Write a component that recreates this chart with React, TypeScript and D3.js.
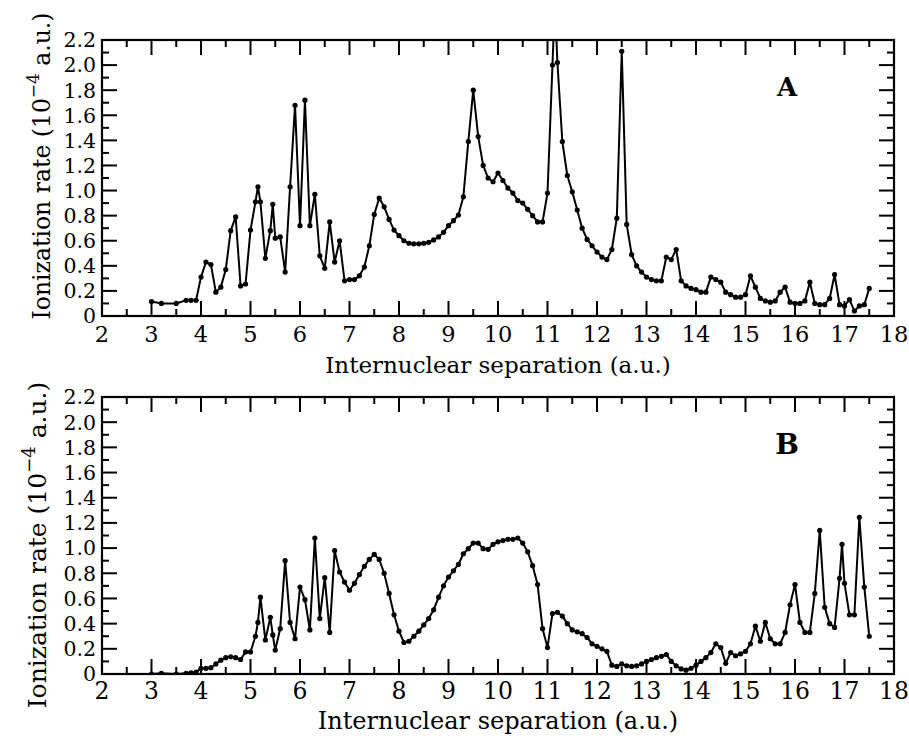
import React from 'react';
import * as d3 from 'd3';

// ---------- data ----------
const seriesA: [number, number][] = [
  [3.0, 0.115], [3.2, 0.10], [3.5, 0.10], [3.7, 0.125], [3.8, 0.125], [3.9, 0.125],
  [4.0, 0.31], [4.1, 0.43], [4.2, 0.41], [4.3, 0.19], [4.4, 0.23], [4.5, 0.37],
  [4.6, 0.68], [4.7, 0.79], [4.8, 0.24], [4.9, 0.255], [5.0, 0.685], [5.1, 0.91],
  [5.15, 1.03], [5.2, 0.91], [5.3, 0.46], [5.4, 0.68], [5.45, 0.89], [5.5, 0.62],
  [5.6, 0.63], [5.7, 0.35], [5.8, 1.03], [5.9, 1.68], [6.0, 0.72], [6.1, 1.72],
  [6.2, 0.72], [6.3, 0.97], [6.4, 0.48], [6.5, 0.38], [6.6, 0.75], [6.7, 0.43],
  [6.8, 0.60], [6.9, 0.28], [7.0, 0.29], [7.1, 0.29], [7.2, 0.32], [7.3, 0.39],
  [7.4, 0.56], [7.5, 0.81], [7.6, 0.94], [7.7, 0.87], [7.8, 0.77], [7.9, 0.685],
  [8.0, 0.64], [8.1, 0.60], [8.2, 0.58], [8.3, 0.575], [8.4, 0.575], [8.5, 0.58],
  [8.6, 0.587], [8.7, 0.606], [8.8, 0.63], [8.9, 0.667], [9.0, 0.72], [9.1, 0.76],
  [9.2, 0.805], [9.3, 0.95], [9.4, 1.39], [9.5, 1.80], [9.6, 1.43], [9.7, 1.20],
  [9.8, 1.10], [9.9, 1.07], [10.0, 1.14], [10.1, 1.08], [10.2, 1.02], [10.3, 0.98],
  [10.4, 0.92], [10.5, 0.90], [10.6, 0.85], [10.7, 0.80], [10.8, 0.75], [10.9, 0.75],
  [11.0, 0.98], [11.1, 2.00], [11.15, 2.5], [11.2, 2.02], [11.3, 1.39], [11.4, 1.12],
  [11.5, 0.99], [11.6, 0.845], [11.7, 0.70], [11.8, 0.61], [11.9, 0.56], [12.0, 0.51],
  [12.1, 0.47], [12.2, 0.45], [12.3, 0.53], [12.4, 0.78], [12.5, 2.11], [12.6, 0.73],
  [12.7, 0.49], [12.8, 0.40], [12.9, 0.35], [13.0, 0.31], [13.1, 0.29], [13.2, 0.28],
  [13.3, 0.28], [13.4, 0.47], [13.5, 0.45], [13.6, 0.53], [13.7, 0.28], [13.8, 0.24],
  [13.9, 0.22], [14.0, 0.21], [14.1, 0.19], [14.2, 0.19], [14.3, 0.31], [14.4, 0.29],
  [14.5, 0.27], [14.6, 0.19], [14.7, 0.17], [14.8, 0.15], [14.9, 0.15], [15.0, 0.17],
  [15.1, 0.32], [15.2, 0.23], [15.3, 0.14], [15.4, 0.12], [15.5, 0.11], [15.6, 0.12],
  [15.7, 0.19], [15.8, 0.23], [15.9, 0.11], [16.0, 0.10], [16.1, 0.10], [16.2, 0.12],
  [16.3, 0.27], [16.4, 0.10], [16.5, 0.09], [16.6, 0.09], [16.7, 0.14], [16.8, 0.33],
  [16.9, 0.09], [17.0, 0.08], [17.1, 0.13], [17.2, 0.04], [17.3, 0.08], [17.4, 0.09],
  [17.5, 0.22],
];

const seriesB: [number, number][] = [
  [3.0, 0.0], [3.2, 0.005], [3.5, 0.0], [3.7, 0.005], [3.8, 0.01], [3.9, 0.015],
  [4.0, 0.045], [4.1, 0.045], [4.2, 0.05], [4.3, 0.08], [4.4, 0.11], [4.5, 0.13],
  [4.6, 0.137], [4.7, 0.13], [4.8, 0.115], [4.9, 0.175], [5.0, 0.175], [5.1, 0.30],
  [5.15, 0.41], [5.2, 0.61], [5.3, 0.27], [5.4, 0.45], [5.45, 0.31], [5.5, 0.19],
  [5.6, 0.36], [5.7, 0.90], [5.8, 0.41], [5.9, 0.28], [6.0, 0.69], [6.1, 0.59],
  [6.2, 0.35], [6.3, 1.08], [6.4, 0.44], [6.5, 0.765], [6.6, 0.33], [6.7, 0.98],
  [6.8, 0.81], [6.9, 0.73], [7.0, 0.665], [7.1, 0.72], [7.2, 0.79], [7.3, 0.855],
  [7.4, 0.91], [7.5, 0.95], [7.6, 0.91], [7.7, 0.80], [7.8, 0.64], [7.9, 0.47],
  [8.0, 0.34], [8.1, 0.25], [8.2, 0.26], [8.3, 0.30], [8.4, 0.34], [8.5, 0.39],
  [8.6, 0.44], [8.7, 0.51], [8.8, 0.61], [8.9, 0.70], [9.0, 0.77], [9.1, 0.82],
  [9.2, 0.87], [9.3, 0.955], [9.4, 0.995], [9.5, 1.04], [9.6, 1.04], [9.7, 0.995],
  [9.8, 0.99], [9.9, 1.03], [10.0, 1.05], [10.1, 1.06], [10.2, 1.07], [10.3, 1.07],
  [10.4, 1.08], [10.5, 1.04], [10.6, 0.97], [10.7, 0.86], [10.8, 0.71], [10.9, 0.36],
  [11.0, 0.21], [11.1, 0.48], [11.2, 0.49], [11.3, 0.46], [11.4, 0.40], [11.5, 0.35],
  [11.6, 0.335], [11.7, 0.32], [11.8, 0.29], [11.9, 0.24], [12.0, 0.22], [12.1, 0.20],
  [12.2, 0.18], [12.3, 0.07], [12.4, 0.06], [12.5, 0.08], [12.6, 0.065], [12.7, 0.06],
  [12.8, 0.065], [12.9, 0.08], [13.0, 0.10], [13.1, 0.115], [13.2, 0.13], [13.3, 0.14],
  [13.4, 0.155], [13.5, 0.10], [13.6, 0.065], [13.7, 0.04], [13.8, 0.03], [13.9, 0.045],
  [14.0, 0.07], [14.1, 0.10], [14.2, 0.13], [14.3, 0.17], [14.4, 0.24], [14.5, 0.21],
  [14.6, 0.085], [14.7, 0.17], [14.8, 0.145], [14.9, 0.16], [15.0, 0.18], [15.1, 0.24],
  [15.2, 0.38], [15.3, 0.26], [15.4, 0.41], [15.5, 0.28], [15.6, 0.24], [15.7, 0.24],
  [15.8, 0.33], [15.9, 0.55], [16.0, 0.71], [16.1, 0.41], [16.2, 0.33], [16.3, 0.33],
  [16.4, 0.64], [16.5, 1.14], [16.6, 0.53], [16.7, 0.40], [16.8, 0.37], [16.9, 0.76],
  [16.95, 1.03], [17.0, 0.72], [17.1, 0.47], [17.2, 0.47], [17.3, 1.245], [17.4, 0.69],
  [17.5, 0.30],
];

const xTickValues = [2, 3, 4, 5, 6, 7, 8, 9, 10, 11, 12, 13, 14, 15, 16, 17, 18];
const xTickLabels = ['2', '3', '4', '5', '6', '7', '8', '9', '10', '11', '12', '13', '14', '15', '16', '17', '18'];
const yTickValues = [0, 0.2, 0.4, 0.6, 0.8, 1.0, 1.2, 1.4, 1.6, 1.8, 2.0, 2.2];
const yTickLabels = ['0', '0.2', '0.4', '0.6', '0.8', '1.0', '1.2', '1.4', '1.6', '1.8', '2.0', '2.2'];
const xTitle = 'Internuclear separation (a.u.)';
const panelLabels = ['A', 'B'];

// ---------- layout ----------
const W = 909;
const H = 736;
const LEFT = 102;
const RIGHT = 894;
const FONT = "'DejaVu Serif', 'Liberation Serif', serif";

interface PanelProps {
  id: string;
  data: [number, number][];
  top: number;
  bottom: number;
  label: string;
  xTickSize: number;
  xTickY: number;
  titleSize: number;
  titleY: number;
  yTickSize: number;
  yTitleSize: number;
  yTitleX: number;
  yTitleY: number;
  labelSize: number;
  labelY: number;
}

function Panel(p: PanelProps) {
  const x = d3.scaleLinear().domain([2, 18]).range([LEFT, RIGHT]);
  const y = d3.scaleLinear().domain([0, 2.2]).range([p.bottom, p.top]);
  const line = d3.line<[number, number]>().x((d) => x(d[0])).y((d) => y(d[1]));
  const xMinor = d3.range(2.5, 18, 1);
  const yMinor = d3.range(0.1, 2.2, 0.2);
  const MAJ = 15;
  const MIN = 7;
  const clipId = `clip-${p.id}`;
  return (
    <g>
      <defs>
        <clipPath id={clipId}>
          <rect x={LEFT} y={p.top} width={RIGHT - LEFT} height={p.bottom - p.top} />
        </clipPath>
      </defs>
      <g stroke="#000" strokeWidth={2}>
        {xTickValues.map((v) => (
          <g key={`xM${v}`}>
            <line x1={x(v)} x2={x(v)} y1={p.bottom} y2={p.bottom - MAJ} />
            <line x1={x(v)} x2={x(v)} y1={p.top} y2={p.top + MAJ} />
          </g>
        ))}
        {xMinor.map((v) => (
          <g key={`xm${v}`}>
            <line x1={x(v)} x2={x(v)} y1={p.bottom} y2={p.bottom - MIN} />
            <line x1={x(v)} x2={x(v)} y1={p.top} y2={p.top + MIN} />
          </g>
        ))}
        {yTickValues.map((v) => (
          <g key={`yM${v}`}>
            <line x1={LEFT} x2={LEFT + MAJ} y1={y(v)} y2={y(v)} />
            <line x1={RIGHT} x2={RIGHT - MAJ} y1={y(v)} y2={y(v)} />
          </g>
        ))}
        {yMinor.map((v) => (
          <g key={`ym${v}`}>
            <line x1={LEFT} x2={LEFT + MIN} y1={y(v)} y2={y(v)} />
            <line x1={RIGHT} x2={RIGHT - MIN} y1={y(v)} y2={y(v)} />
          </g>
        ))}
      </g>
      <g clipPath={`url(#${clipId})`}>
        <path d={line(p.data) || ''} fill="none" stroke="#000" strokeWidth={2} strokeLinejoin="round" />
        {p.data.map((d, i) => (
          <circle key={i} cx={x(d[0])} cy={y(d[1])} r={2.6} fill="#000" />
        ))}
      </g>
      <rect x={LEFT} y={p.top} width={RIGHT - LEFT} height={p.bottom - p.top} fill="none" stroke="#000" strokeWidth={2.2} />
      <g fontFamily={FONT} fill="#000">
        {yTickValues.map((v, i) => (
          <text key={`yl${v}`} x={96} y={y(v)} dy="0.36em" textAnchor="end" fontSize={p.yTickSize}>
            {yTickLabels[i]}
          </text>
        ))}
        {xTickValues.map((v, i) => (
          <text key={`xl${v}`} x={x(v)} y={p.xTickY} textAnchor="middle" fontSize={p.xTickSize}>
            {xTickLabels[i]}
          </text>
        ))}
        <text x={(LEFT + RIGHT) / 2} y={p.titleY} textAnchor="middle" fontSize={p.titleSize}>
          {xTitle}
        </text>
        <text transform={`translate(${p.yTitleX},${p.yTitleY}) rotate(-90)`} textAnchor="middle" fontSize={p.yTitleSize}>
          Ionization rate (10
          <tspan dy={-p.yTitleSize * 0.45} fontSize={p.yTitleSize * 0.72}>−4</tspan>
          <tspan dy={p.yTitleSize * 0.45}>{' a.u.)'}</tspan>
        </text>
        <text x={787} y={p.labelY} textAnchor="middle" fontSize={p.labelSize} fontWeight="bold">
          {p.label}
        </text>
      </g>
    </g>
  );
}

export default function App() {
  return (
    <svg width={W} height={H} style={{ position: 'absolute', left: 0, top: 0, background: '#fff' }}>
      <rect x={0} y={0} width={W} height={H} fill="#fff" />
      <Panel id="a" data={seriesA} top={40} bottom={316} label={panelLabels[0]}
        xTickSize={22.5} xTickY={342} titleSize={23} titleY={373}
        yTickSize={20.5} yTitleSize={23.5} yTitleX={50} yTitleY={166}
        labelSize={26} labelY={96} />
      <Panel id="b" data={seriesB} top={397} bottom={674} label={panelLabels[1]}
        xTickSize={23.5} xTickY={699} titleSize={24} titleY={729}
        yTickSize={20.5} yTitleSize={25} yTitleX={46} yTitleY={545}
        labelSize={28} labelY={454} />
    </svg>
  );
}
